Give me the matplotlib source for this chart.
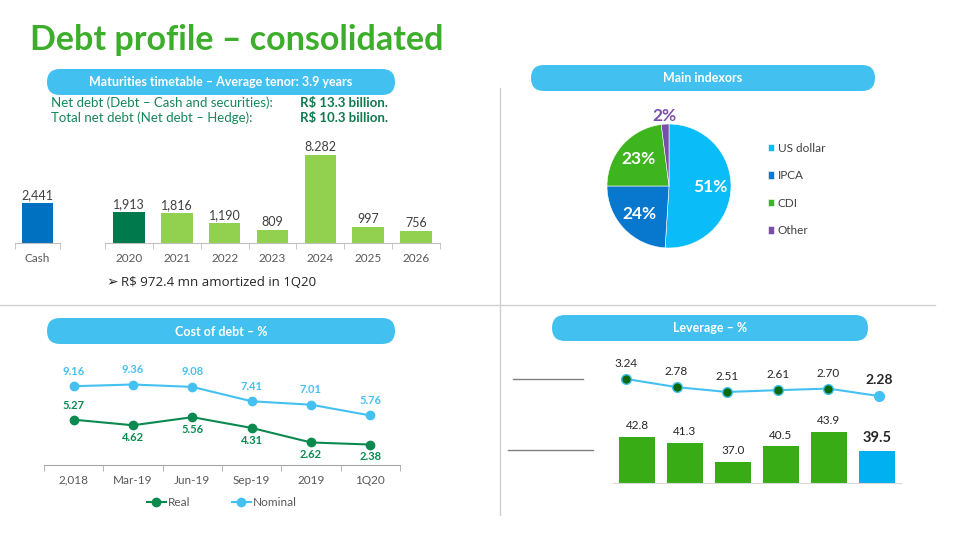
import matplotlib
matplotlib.use("Agg")
import matplotlib.pyplot as plt
from matplotlib.patches import FancyBboxPatch
import numpy as np

plt.rcParams['font.family'] = ['Lato', 'DejaVu Sans']

# --- data ---
cash_label = ['Cash']
cash_value = [2441]
mat_years = ['2020', '2021', '2022', '2023', '2024', '2025', '2026']
mat_values = [1913, 1816, 1190, 809, 8282, 997, 756]
mat_text = ['1,913', '1,816', '1,190', '809', '8.282', '997', '756']

idx_labels = ['US dollar', 'IPCA', 'CDI', 'Other']
idx_share = [51, 24, 23, 2]

cost_periods = ['2,018', 'Mar-19', 'Jun-19', 'Sep-19', '2019', '1Q20']
cost_real = [5.27, 4.62, 5.56, 4.31, 2.62, 2.38]
cost_nominal = [9.16, 9.36, 9.08, 7.41, 7.01, 5.76]

lev_ratio = [3.24, 2.78, 2.51, 2.61, 2.70, 2.28]
lev_pct = [42.8, 41.3, 37.0, 40.5, 43.9, 39.5]

GREEN_T = '#3DAE2B'
PILL = '#42C0F0'
TEAL = '#16875A'
GRAY_T = '#404040'
TICK_T = '#595959'

W, H = 960, 540
fig = plt.figure(figsize=(9.6, 5.4), dpi=100)


def px_axes(x0, y0, x1, y1, **kw):
    return fig.add_axes([x0 / W, 1 - y1 / H, (x1 - x0) / W, (y1 - y0) / H], **kw)


# background layer in pixel coords
bg = fig.add_axes([0, 0, 1, 1], zorder=-1)
bg.set_xlim(0, W)
bg.set_ylim(H, 0)
bg.axis('off')

bg.text(30, 40, 'Debt profile – consolidated', color=GREEN_T, fontsize=24.5,
        fontweight='bold', va='center', ha='left')

bg.plot([500, 500], [88, 515], color='#D0D0D0', lw=1)
bg.plot([0, 935], [305, 305], color='#D0D0D0', lw=1)


def pill(x0, y0, x1, y1, text):
    bg.add_patch(FancyBboxPatch((x0, y0), x1 - x0, y1 - y0,
                                boxstyle='round,pad=0,rounding_size=13',
                                fc=PILL, ec='none'))
    bg.text((x0 + x1) / 2, (y0 + y1) / 2 + 0.5, text, color='white', fontsize=9,
            fontweight='bold', ha='center', va='center')


pill(47, 69, 395, 95, 'Maturities timetable – Average tenor: 3.9 years')
pill(531, 65, 875, 91, 'Main indexors')
pill(47, 318, 395, 344, 'Cost of debt – %')
pill(552, 315, 868, 341, 'Leverage – %')

bg.text(51, 103, 'Net debt (Debt – Cash and securities):', color=TEAL, fontsize=9.5, va='center')
bg.text(51, 118, 'Total net debt (Net debt – Hedge):', color=TEAL, fontsize=9.5, va='center')
bg.text(300, 103, 'R$ 13.3 billion.', color='#0E7A4E', fontsize=9.5, fontweight='bold', va='center')
bg.text(300, 118, 'R$ 10.3 billion.', color='#0E7A4E', fontsize=9.5, fontweight='bold', va='center')

bg.text(106, 282, '➢', color='#262626', fontsize=10, va='center', family=['DejaVu Sans'])
bg.text(121, 282, 'R$ 972.4 mn amortized in 1Q20', color='#262626', fontsize=9.5,
        va='center', family=['Open Sans', 'DejaVu Sans'])

# leverage legend stubs
bg.plot([513, 583], [379, 379], color='#808080', lw=1)
bg.plot([508, 593], [450, 450], color='#808080', lw=1)

# --- maturities ---
ymax = 5370


def cat_axis(ax, labels, color='#BFBFBF'):
    n = len(labels)
    ax.set_xlim(-0.5, n - 0.5)
    for s in ['top', 'right', 'left']:
        ax.spines[s].set_visible(False)
    ax.spines['bottom'].set_color(color)
    ax.set_yticks([])
    ax.set_xticks(range(n))
    ax.set_xticklabels(labels, color=TICK_T, fontsize=8.5)
    ax.tick_params(axis='x', which='major', length=0, pad=7)
    ax.set_xticks([i - 0.5 for i in range(n + 1)], minor=True)
    ax.tick_params(axis='x', which='minor', length=4, color=color)
    ax.patch.set_alpha(0)


cax = px_axes(15, 155, 60, 243)
cax.bar(range(1), cash_value, width=0.69, color='#0070C0')
cax.set_ylim(0, ymax)
cat_axis(cax, cash_label)
cax.text(0, cash_value[0] + 120, '2,441', ha='center', va='bottom', fontsize=9,
         color=GRAY_T)

max_ = px_axes(105, 155, 440, 243)
mcolors = ['#007A4D'] + ['#92D050'] * (len(mat_values) - 1)
max_.bar(range(len(mat_values)), mat_values, width=0.66, color=mcolors)
max_.set_ylim(0, ymax)
cat_axis(max_, mat_years)
for i, (v, t) in enumerate(zip(mat_values, mat_text)):
    max_.text(i, min(v, ymax) + 120, t, ha='center', va='bottom', fontsize=9,
              color=GRAY_T, clip_on=False)

# --- pie ---
pax = px_axes(607, 124, 731, 248)
pcolors = ['#0ABDF8', '#0878CF', '#3EB51E', '#7B4FA8']
wedges, _ = pax.pie(idx_share, colors=pcolors, startangle=90, counterclock=False,
                    wedgeprops=dict(linewidth=0.4, edgecolor='white'))
pax.set_xlim(-1, 1)
pax.set_ylim(-1, 1)
for w, s, c in zip(wedges, idx_share, pcolors):
    ang = np.deg2rad((w.theta1 + w.theta2) / 2)
    if s < 5:
        r, col = 1.13, c
    else:
        r, col = 0.66, 'white'
    pax.text(r * np.cos(ang), r * np.sin(ang), f'{s}%', ha='center', va='center',
             fontsize=12.5, fontweight='bold', color=col, clip_on=False)
pax.legend(wedges, idx_labels, loc='upper left', bbox_to_anchor=(757 / W, 1 - 132 / H),
           bbox_transform=fig.transFigure, frameon=False, fontsize=8.5,
           handlelength=0.55, handleheight=0.55, handletextpad=0.3, labelspacing=1.4,
           labelcolor=GRAY_T)

# --- cost of debt ---
dax = px_axes(44, 360, 400, 465)
dax.set_ylim(0, 105 / 8.6)
cat_axis(dax, cost_periods, color='#A6A6A6')
x = range(len(cost_periods))
c_real, c_nom = '#0B8A50', '#45C1F1'
dax.plot(x, cost_real, color=c_real, lw=1.5, marker='o', ms=6, label='Real', clip_on=False)
dax.plot(x, cost_nominal, color=c_nom, lw=1.5, marker='o', ms=6, label='Nominal', clip_on=False)
for i, v in enumerate(cost_nominal):
    dax.annotate(f'{v:.2f}', (i, v), xytext=(0, 7), textcoords='offset points',
                 ha='center', va='bottom', fontsize=8, fontweight='bold', color=c_nom)
for i, v in enumerate(cost_real):
    off, va = ((0, 6), 'bottom') if i == 0 else ((0, -5), 'top')
    dax.annotate(f'{v:.2f}', (i, v), xytext=off, textcoords='offset points',
                 ha='center', va=va, fontsize=8, fontweight='bold', color=c_real)
dax.legend(loc='center', bbox_to_anchor=(222 / W, 1 - 503 / H), bbox_transform=fig.transFigure,
           ncol=2, frameon=False, fontsize=8.5, handlelength=1.6, handletextpad=0.2,
           columnspacing=3.5, labelcolor=TICK_T)

# --- leverage ---
lax = px_axes(600.7, 360, 904.3, 410)
lax.set_ylim(1.5, 4.3)
lax.set_xlim(-0.5, len(lev_ratio) - 0.5)
lax.axis('off')
lx = range(len(lev_ratio))
lax.plot(lx, lev_ratio, color='#45C1F1', lw=1.5, zorder=2)
mfc = ['#0B6B0B'] * (len(lev_ratio) - 1) + ['#45C1F1']
for i, v in enumerate(lev_ratio):
    lax.plot(i, v, marker='o', ms=7, mfc=mfc[i], mec='#45C1F1', mew=1, zorder=3)
    last = i == len(lev_ratio) - 1
    lax.annotate(f'{v:.2f}', (i, v), xytext=(0, 7), textcoords='offset points',
                 ha='center', va='bottom', fontsize=10 if last else 8.5,
                 fontweight='bold' if last else 'normal', color='#262626')

bax = px_axes(613, 410, 901, 483)
bax.set_ylim(32, 32 + 73 / 4.3)
bcolors = ['#38AC14'] * (len(lev_pct) - 1) + ['#00B0F0']
bax.bar(range(len(lev_pct)), lev_pct, width=0.77, color=bcolors)
bax.set_xlim(-0.5, len(lev_pct) - 0.5)
for s in ['top', 'right', 'left']:
    bax.spines[s].set_visible(False)
bax.spines['bottom'].set_color('#D9D9D9')
bax.set_xticks([])
bax.set_yticks([])
bax.patch.set_alpha(0)
for i, v in enumerate(lev_pct):
    last = i == len(lev_pct) - 1
    bax.annotate(f'{v:.1f}', (i, v), xytext=(0, 4), textcoords='offset points',
                 ha='center', va='bottom', fontsize=10.5 if last else 8.5,
                 fontweight='bold' if last else 'normal', color='#262626')

fig.savefig('out.png', dpi=100)
